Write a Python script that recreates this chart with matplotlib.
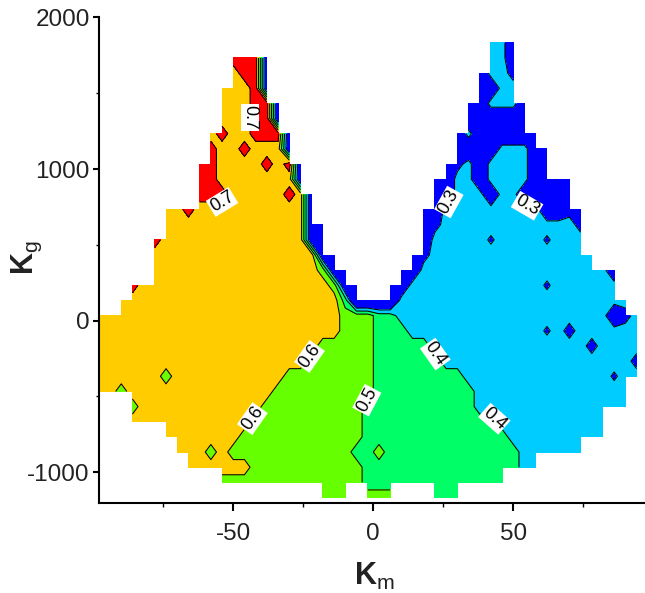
import numpy as np
import matplotlib
matplotlib.use("Agg")
import matplotlib.pyplot as plt

plt.rcParams['font.family'] = 'Liberation Sans'
plt.rcParams['mathtext.fontset'] = 'custom'
plt.rcParams['mathtext.rm'] = 'Liberation Sans'
plt.rcParams['mathtext.bf'] = 'Liberation Sans:bold'
plt.rcParams['axes.unicode_minus'] = False

# grid nodes (Km across, Kg up)
km = np.arange(-98, 95, 4)
kg = np.arange(-1167, 1834, 100)

# node value codes, missing nodes = outside the sampled domain
code_values = {'0': 0.05, '1': 0.15, '2': 0.25, 'b': 0.28, '3': 0.35,
               '4': 0.45, '5': 0.55, '6': 0.65, '7': 0.75}

# one entry per Kg row, top row first: (first Km node, codes)
rows = [
    [(35, "331")],
    [(12, "7771"), (35, "331")],
    [(12, "6771"), (34, "1332")],
    [(11, "66671"), (34, "1133")],
    [(11, "666771"), (33, "113331")],
    [(11, "666771"), (33, "111111")],
    [(10, "67667771"), (32, "13111111")],
    [(10, "76676661"), (32, "111133311")],
    [(9, "7766667671"), (31, "1231333311")],
    [(9, "7766666661"), (30, "1133133331111")],
    [(9, "77766666761"), (30, "1133313311111")],
    [(6, "66766666666661"), (29, "113333333331122")],
    [(6, "666666666666611"), (29, "123333333333332")],
    [(5, "7666666666666611"), (29, "133333b3333b333")],
    [(5, "66666666666666611"), (28, "12333333333333333")],
    [(5, "666666666666666511"), (27, "11333333333333333331")],
    [(3, "766666666666666666511"), (26, "11333333333333b333333")],
    [(2, "66666666666666666666" "4" "0000" "333333333333333333333")],
    [(0, "6666666666666666666666" "555" "44" "3333333333333333333" "123")],
    [(0, "6666666666666666666666" "555" "444" "333333333333" "b32" "333333")],
    [(0, "66666666666666666666" "55555" "44444" "33333333333333" "2" "3333")],
    [(0, "6666666666666666666" "555555" "444444" "33333333333333333" "2")],
    [(0, "666666" "5" "6666666666" "55555555" "44444444" "3333333333333" "b33")],
    [(0, "665" "6666666666666" "555555555" "444444444" "33333333333333")],
    [(3, "5" "66666666666" "555555555" "4444444444" "33333333333333")],
    [(3, "66666666666" "5555555555" "444444444444" "3333333333")],
    [(6, "6666666" "55555555555" "4444444444444" "333333333")],
    [(7, "666" "5" "6" "55555555555" "44" "5" "444444444444" "333333")],
    [(8, "666666" "5555555555" "44444444444444" "33")],
    [(11, "5555555555555" "4444444444444")],
    [(20, "555"), (24, "555"), (30, "444")],
]

levels = [0.0, 0.3, 0.4, 0.5, 0.6, 0.7, 1.0]
band_colors = ['#0000ff', '#00ccff', '#00ff66', '#66ff00', '#ffcc00', '#ff0000']

# where the contour labels sit (Km, Kg)
label_pos = [(-45.0, 1340), (-50.5, 720), (-23.3, -230), (-42.9, -650),
             (-1.9, -530), (21.0, -235), (43.8, -640), (29.2, 755), (54.9, 780)]

Z = np.full((len(kg), len(km)), np.nan)
for k, segs in enumerate(rows):
    j = len(kg) - 1 - k
    for start, codes in segs:
        assert start + len(codes) <= len(km)
        for n, c in enumerate(codes):
            Z[j, start + n] = code_values[c]
Z = np.ma.masked_invalid(Z)

fig = plt.figure(figsize=(6.45, 5.93), dpi=100)
ax = fig.add_axes([0.1532, 0.1526, 0.8468, 0.8179])

ax.contourf(km, kg, Z, levels=levels, colors=band_colors, corner_mask=False)
cs = ax.contour(km, kg, Z, levels=levels[1:-1], colors='k', linewidths=0.75,
                corner_mask=False)
labels = ax.clabel(cs, fmt='%.1f', fontsize=13, manual=label_pos,
                   inline=True, inline_spacing=2)
for t in labels:
    t.set_bbox(dict(facecolor='white', edgecolor='none', pad=0.6))

ax.set_xlim(-98, 97)
ax.set_ylim(-1200, 2000)
ax.spines['top'].set_visible(False)
ax.spines['right'].set_visible(False)
for s in ('left', 'bottom'):
    ax.spines[s].set_linewidth(1.5)

ax.set_xticks([-50, 0, 50])
ax.set_xticks([-75, -25, 25, 75], minor=True)
ax.set_yticks([-1000, 0, 1000, 2000])
ax.set_yticks([-500, 500, 1500], minor=True)
ax.tick_params(axis='x', which='major', direction='out', length=6, width=1.5,
               pad=9, labelsize=17.5, labelcolor='#222222')
ax.tick_params(axis='y', which='major', direction='out', length=4, width=1.5,
               pad=2.5, labelsize=17.5, labelcolor='#222222')
ax.tick_params(axis='x', which='minor', direction='out', length=3, width=1)
ax.tick_params(axis='y', which='minor', direction='out', length=2.5, width=1)

fig.text(374 / 645, 8 / 593, r'$\mathbf{K}_\mathrm{m}$', fontsize=22,
         ha='center', va='baseline', color='#222222')
fig.text(33 / 645, 1 - 258 / 593, r'$\mathbf{K}_\mathrm{g}$', fontsize=22,
         rotation=90, rotation_mode='anchor', ha='center', va='baseline',
         color='#222222')

fig.savefig('out.png', dpi=100)
